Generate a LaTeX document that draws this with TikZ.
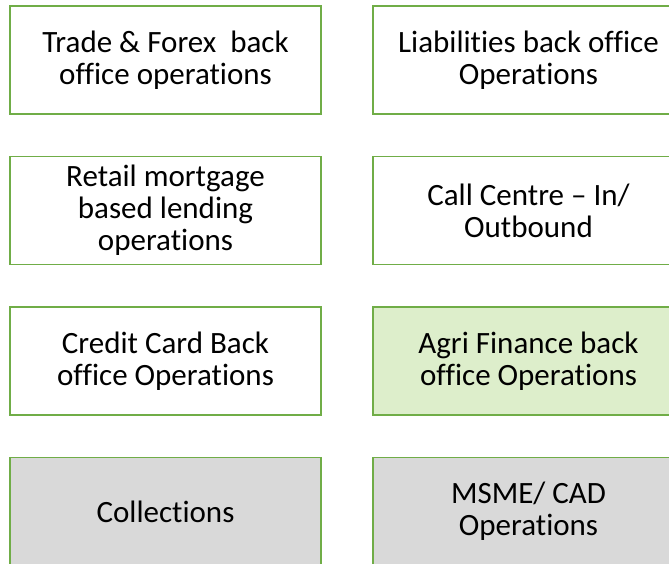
\documentclass[tikz,border=0pt]{standalone}
\usepackage{fontspec}
\setmainfont{Carlito}[Ligatures=NoCommon]
\usetikzlibrary{positioning}
\definecolor{boxgreen}{HTML}{70AD47}
\definecolor{agrifill}{HTML}{DDEECB}
\definecolor{greyfill}{HTML}{D9D9D9}

\begin{document}
\begin{tikzpicture}[
  x=1pt, y=1pt,
  node distance=42.5pt and 52pt,
  opbox/.style={draw=boxgreen, line width=1.6pt, align=center, outer sep=0pt,
    minimum width=311pt, minimum height=108pt, inner sep=2pt,
    font=\fontsize{31}{32}\selectfont},
  agri/.style={opbox, fill=agrifill},
  grey/.style={opbox, fill=greyfill}
]
\useasboundingbox (0,0) rectangle (669,-564);
\node[opbox] at (165.5,-60) (trade) {Trade \& Forex\ \ back\\office operations};
\node[opbox, right=of trade] (liab) {Liabilities back office\\Operations};
\node[opbox, below=of trade] (retail) {Retail mortgage\\based lending\\operations};
\node[opbox, right=of retail] (call) {Call Centre -- In/\\Outbound};
\node[opbox, below=of retail] (card) {Credit Card Back\\office Operations};
\node[agri, right=of card] (agrifin) {Agri Finance back\\office Operations};
\node[grey, below=of card] (coll) {Collections};
\node[grey, right=of coll] (msme) {MSME/ CAD\\Operations};
\end{tikzpicture}
\end{document}
